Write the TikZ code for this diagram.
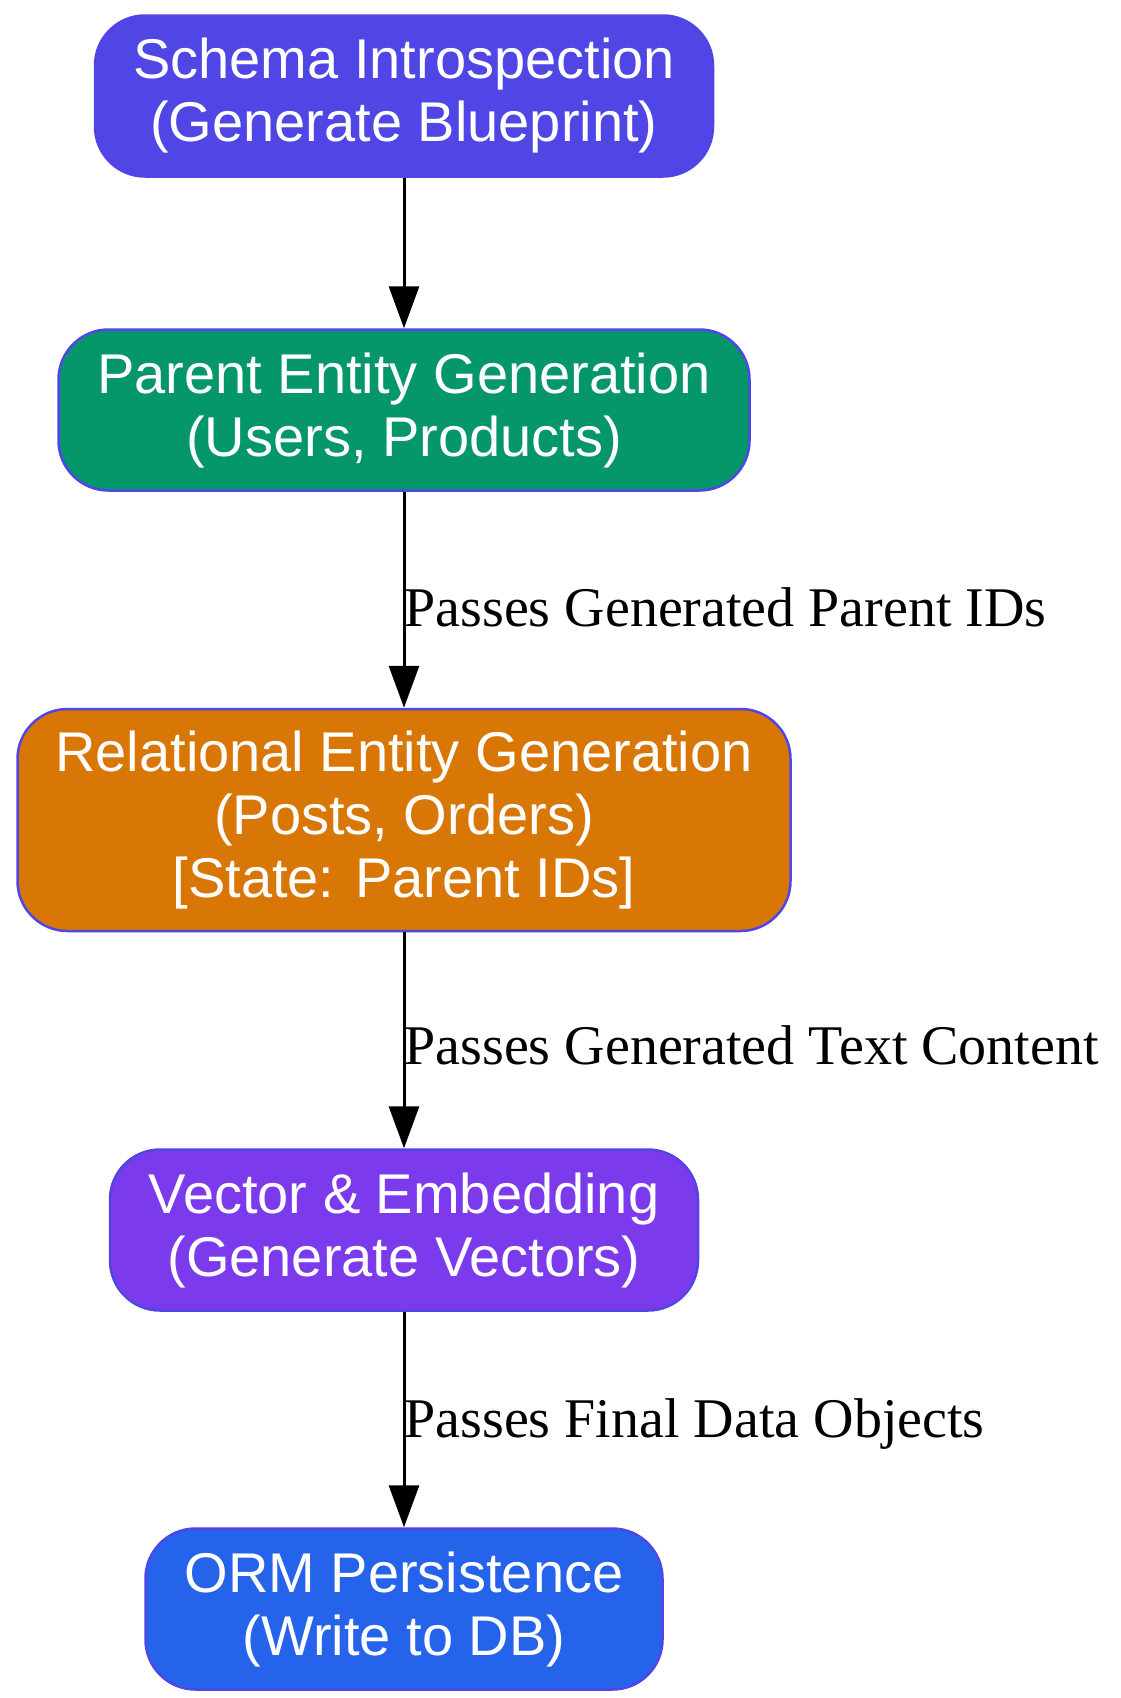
\documentclass[tikz,border=0pt]{standalone}
\usepackage{fontspec}
\setmainfont{Liberation Serif}
\newfontfamily\hv{Liberation Sans}
\usetikzlibrary{arrows.meta}
\definecolor{bord}{RGB}{79,70,229}
\begin{document}
\begin{tikzpicture}[x=1pt,y=-1pt,
 box/.style={draw=bord, line width=2.5pt, rounded corners=50pt, text=white, font=\hv\fontsize{56}{63}\selectfont, align=center, minimum height=161pt, inner xsep=20pt},
 arr/.style={line width=3pt, -{Triangle[length=42pt,width=30pt]}},
 lab/.style={right, font=\fontsize{56}{60}\selectfont, inner sep=0pt}]
\useasboundingbox (0,0) rectangle (1121,1698);
\node[box, fill={rgb,255:red,79;green,70;blue,229}, minimum width=618pt] (a) at (404,96) {Schema Introspection\\(Generate Blueprint)};
\node[box, fill={rgb,255:red,5;green,150;blue,105}, minimum width=691pt] (b) at (404,410) {Parent Entity Generation\\(Users, Products)};
\node[box, fill={rgb,255:red,217;green,119;blue,6}, minimum width=773pt, minimum height=222pt] (c) at (404,820) {Relational Entity Generation\\(Posts, Orders)\\{[State: Parent IDs]}};
\node[box, fill={rgb,255:red,124;green,58;blue,237}, minimum width=588pt] (d) at (404,1230) {Vector \& Embedding\\(Generate Vectors)};
\node[box, fill={rgb,255:red,37;green,99;blue,235}, minimum width=517pt] (e) at (404,1609) {ORM Persistence\\(Write to DB)};
\draw[arr] (a) -- (b);
\draw[arr] (b) -- node[lab, xshift=-1pt, yshift=-8pt]{Passes Generated Parent IDs} (c);
\draw[arr] (c) -- node[lab, xshift=-1pt, yshift=-5pt]{Passes Generated Text Content} (d);
\draw[arr] (d) -- node[lab, xshift=-1pt, yshift=-5pt]{Passes Final Data Objects} (e);
\end{tikzpicture}
\end{document}
